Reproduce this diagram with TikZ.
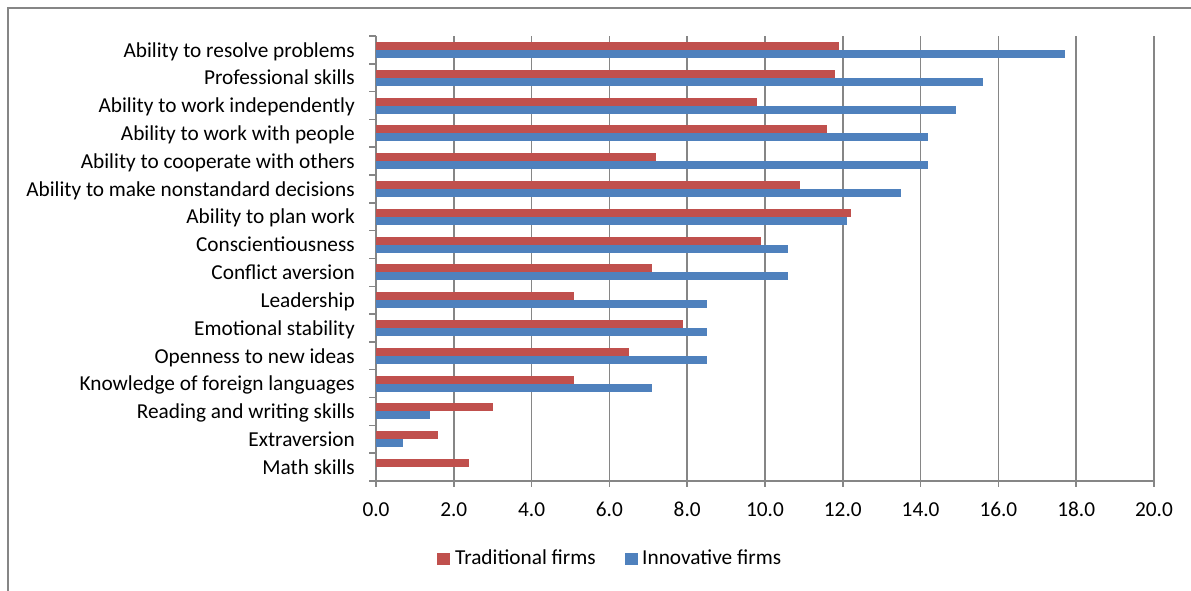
\documentclass[tikz,border=0pt]{standalone}
\usepackage{fontspec}
\setmainfont{Carlito}
\definecolor{tradred}{HTML}{C0504D}
\definecolor{innoblue}{HTML}{4F81BD}
\definecolor{axisgray}{HTML}{868686}
\tikzset{
  axisline/.style={axisgray,line width=1.5pt},
  catlabel/.style={anchor=base east,xshift=-21pt,yshift=-7.2pt,inner sep=0pt},
  ticklabel/.style={anchor=base,yshift=-35.7pt,inner sep=0pt},
  legendtext/.style={anchor=base west,inner sep=0pt}
}
\begin{document}
\begin{tikzpicture}[x=1pt,y=1pt,font=\fontsize{21.3}{25}\selectfont]

\def\TRADCOLOR{tradred}
\def\INNOCOLOR{innoblue}
	\useasboundingbox (0,0) rectangle (1191,591);
	\draw[axisgray,line width=1.2pt] (8,0) -- (8,583) -- (1191,583);

	\begin{scope}[shift={(376,110)},x=38.9pt,y=27.8125pt]
	% grid and axes
	\foreach \g in {2,4,...,20}
		\draw[axisline] (\g,0) -- (\g,16);
	\draw[axisline] (0,16) -- (0,0) -- (20,0);
	\foreach \k in {0,...,16}
		\draw[axisline] (0,\k) -- ++(-7pt,0);
	\foreach \g in {0,2,...,20} {
		\draw[axisline] (\g,0) -- ++(0,-6pt);
		\node[ticklabel] (tick\g) at (\g,0) {\g.0};
	}
	% bars
	\foreach \k/\lbl/\t/\i in {
		16/Ability to resolve problems/11.9/17.7,
		15/Professional skills/11.8/15.6,
		14/Ability to work independently/9.8/14.9,
		13/Ability to work with people/11.6/14.2,
		12/Ability to cooperate with others/7.2/14.2,
		11/Ability to make nonstandard decisions/10.9/13.5,
		10/Ability to plan work/12.2/12.1,
		9/Conscientiousness\hspace{5pt}/9.9/10.6,
		8/Conflict aversion/7.1/10.6,
		7/Leadership/5.1/8.5,
		6/Emotional stability/7.9/8.5,
		5/Openness to new ideas/6.5/8.5,
		4/Knowledge of foreign languages/5.1/7.1,
		3/Reading and writing skills/3.0/1.4,
		2/Extraversion/1.6/0.7,
		1/Math skills/2.4/0} {
		\fill[\TRADCOLOR] (0,\k-0.5) rectangle ++ (\t,0.2876);
		\fill[\INNOCOLOR] (0,\k-0.5) rectangle ++ (\i,-0.2876);
		\node[catlabel] (cat\k) at (0,\k-0.5) {\lbl};
	}
	\end{scope}

	% legend
	\fill[\TRADCOLOR] (437,26) rectangle ++ (13,12);
	\node[legendtext] (tradkey) at (455,26) {Traditional firms};
	\fill[\INNOCOLOR] (625,26) rectangle ++ (13,12);
	\node[legendtext] (innokey) at (642,26) {Innovative firms};

          \end{tikzpicture}
\end{document}
